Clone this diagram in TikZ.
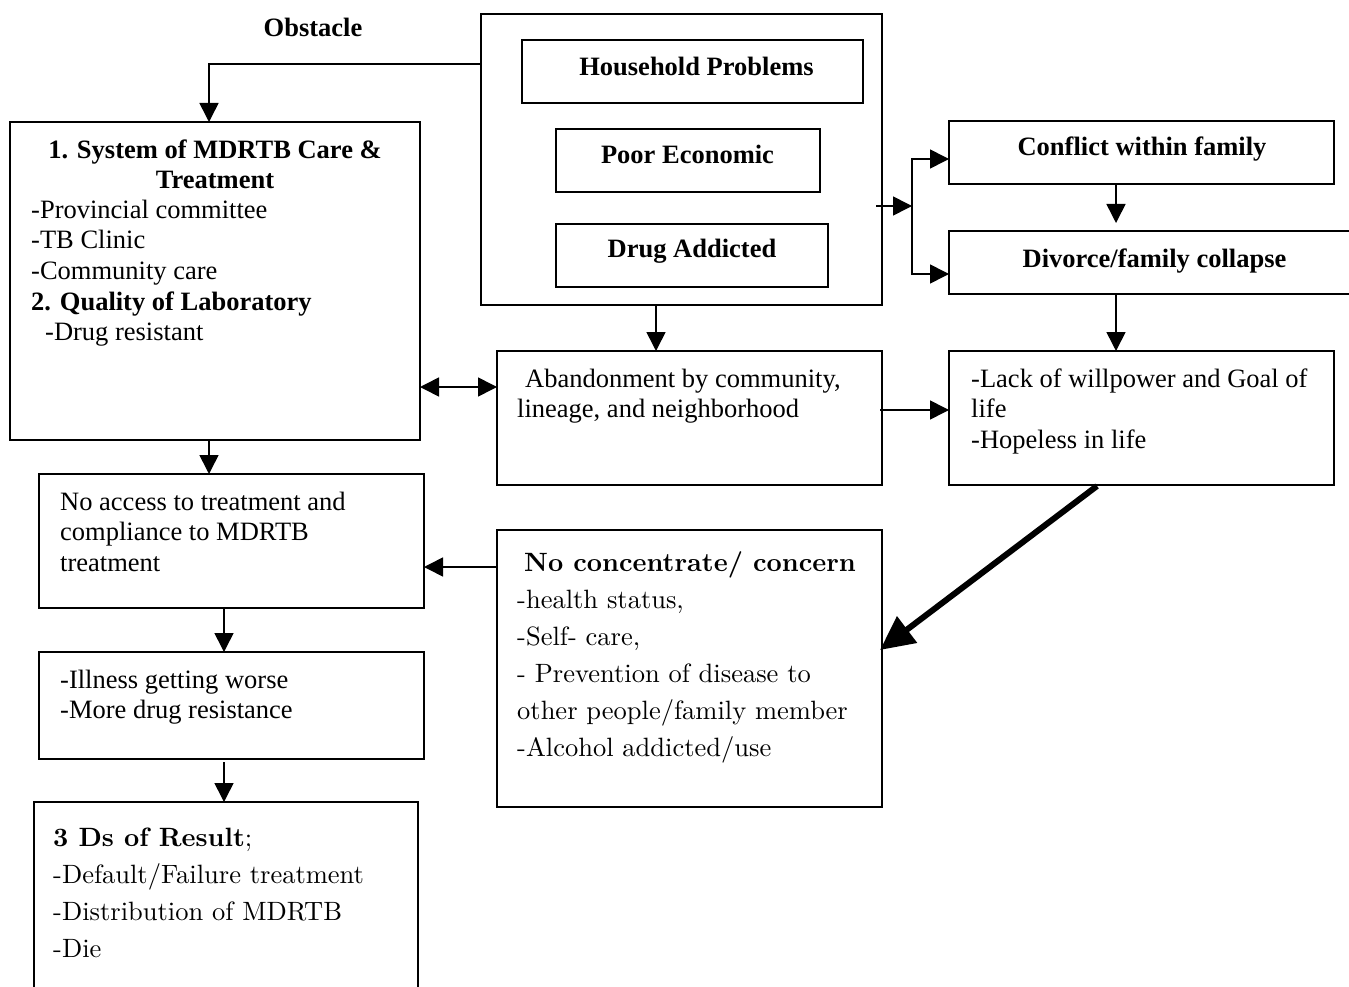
\documentclass[tikz,border=0pt]{standalone}
\usepackage{fontspec}
\usetikzlibrary{arrows.meta}
\newfontfamily\tms{Liberation Serif}
\newfontfamily\lmt{lmroman10-regular}[Extension=.otf,BoldFont=lmroman10-bold]
\newcommand\tfs{\tms\fontsize{26.5}{30.7}\selectfont}
\newcommand\lfs{\lmt\fontsize{26.5}{37}\selectfont}
\tikzset{
  box/.style={draw, line width=1.5pt, inner sep=0pt, outer sep=0pt},
  arr/.style={line width=1.6pt, -{Triangle[length=19pt,width=19pt]}},
  darr/.style={line width=1.6pt, {Triangle[length=19pt,width=19pt]}-{Triangle[length=19pt,width=19pt]}},
  bigarr/.style={line width=6pt, -{Triangle[length=34pt,width=32pt]}},
  ttxt/.style={inner sep=0pt, font=\tfs},
  tblock/.style={inner sep=0pt, anchor=north west, align=left, font=\tfs},
  lblock/.style={inner sep=0pt, anchor=north west, align=left, font=\lfs},
}
\begin{document}
\begin{tikzpicture}[x=1pt,y=-1pt]
\useasboundingbox[fill=white] (0,0) rectangle (1349,987);

% boxes
\node[box, minimum width=401pt, minimum height=291pt] (outer) at (681.5,159.5) {};
\node[box, minimum width=341pt, minimum height=63pt] (hh) at (692.5,71.5) {};
\node[box, minimum width=264pt, minimum height=63pt] (pe) at (688,160.5) {};
\node[box, minimum width=272pt, minimum height=63pt] (da) at (692,255.5) {};
\node[box, minimum width=410pt, minimum height=318pt] (b1) at (215,281) {};
\node[box, minimum width=385pt, minimum height=134pt] (ab) at (689.5,418) {};
\node[box, minimum width=385pt, minimum height=63pt] (cf) at (1141.5,152.5) {};
\node[box, minimum width=406pt, minimum height=63pt] (dv) at (1152,262.5) {};
\node[box, minimum width=385pt, minimum height=134pt] (lk) at (1141.5,418) {};
\node[box, minimum width=385pt, minimum height=277pt] (nc) at (689.5,668.5) {};
\node[box, minimum width=385pt, minimum height=134pt] (na) at (231.5,541) {};
\node[box, minimum width=385pt, minimum height=107pt] (il) at (231.5,705.5) {};
\node[box, minimum width=384pt, minimum height=200pt] (rs) at (226,902) {};

% texts
\node[ttxt, anchor=base] (tob) at (313,37) {\bfseries Obstacle};
\node[ttxt, anchor=base] (thh) at (696.5,76) {\bfseries Household Problems};
\node[ttxt, anchor=base] (tpe) at (687.5,164) {\bfseries Poor Economic};
\node[ttxt, anchor=base] (tda) at (692,258) {\bfseries Drug Addicted};
\node[ttxt, anchor=base] (tcf) at (1142,156) {\bfseries Conflict within family};
\node[ttxt, anchor=base] (tdv) at (1154.5,267) {\bfseries Divorce/family collapse};

\node[inner sep=0pt, anchor=north, align=center, font=\tfs\bfseries] (tb1a) at (215,136.5)
  {\strut 1. System of MDRTB Care \&\\Treatment};
\node[tblock] (tb1b) at (31,196.5)
  {\strut -Provincial committee\\-TB Clinic\\-Community care\\\textbf{2. Quality of Laboratory}\\\hspace*{14pt}-Drug resistant};
\node[tblock] (tab) at (517,365.5)
  {\strut\hspace*{8pt}Abandonment by community,\\lineage, and neighborhood};
\node[tblock] (tlk) at (971,365.5)
  {\strut -Lack of willpower and Goal of\\life\\-Hopeless in life};
\node[tblock] (tna) at (60,488.5)
  {\strut No access to treatment and\\compliance to MDRTB\\treatment};
\node[tblock] (til) at (60,666.5)
  {\strut -Illness getting worse\\-More drug resistance};
\node[lblock] (tnc) at (517,545)
  {\strut\hspace*{7pt}\textbf{No concentrate/ concern}\\-health status,\\-Self- care,\\- Prevention of disease to\\other people/family member\\-Alcohol addicted/use};
\node[lblock] (trs) at (53,820)
  {\strut\textbf{3 Ds of Result};\\-Default/Failure treatment\\-Distribution of MDRTB\\-Die};

% connectors
\coordinate (c1) at (209,64);
\draw[arr] (c1 -| outer.west) -- (c1) -- (c1 |- b1.north);

\coordinate (c2) at (656,0);
\draw[arr] (c2 |- outer.south) -- (c2 |- ab.north);

\coordinate (c3) at (876,206);
\coordinate (j) at (912,206);
\coordinate (c4) at (949,159);
\coordinate (c5) at (949,274);
\draw[arr] (c3) -- (j);
\draw[arr] (j) |- (c4);
\draw[arr] (j) |- (c5);

\coordinate (c6) at (1116,0);
\draw[arr, shorten >=8pt] (c6 |- cf.south) -- (c6 |- dv.north);
\draw[arr] (c6 |- dv.south) -- (c6 |- lk.north);

\coordinate (c7) at (880,410);
\draw[arr] (c7) -- (c7 -| lk.west);

\coordinate (c8) at (0,387);
\draw[darr] (c8 -| b1.east) -- (c8 -| ab.west);

\coordinate (c9) at (209,0);
\draw[arr] (c9 |- b1.south) -- (c9 |- na.north);

\coordinate (c10) at (0,567);
\draw[arr] (c10 -| nc.west) -- (c10 -| na.east);

\coordinate (c11) at (224,0);
\draw[arr] (c11 |- na.south) -- (c11 |- il.north);
\draw[arr, shorten <=3pt] (c11 |- il.south) -- (c11 |- rs.north);

\coordinate (c12) at (1097,486);
\coordinate (c13) at (880,650);
\draw[bigarr] (c12) -- (c13);
\end{tikzpicture}
\end{document}
